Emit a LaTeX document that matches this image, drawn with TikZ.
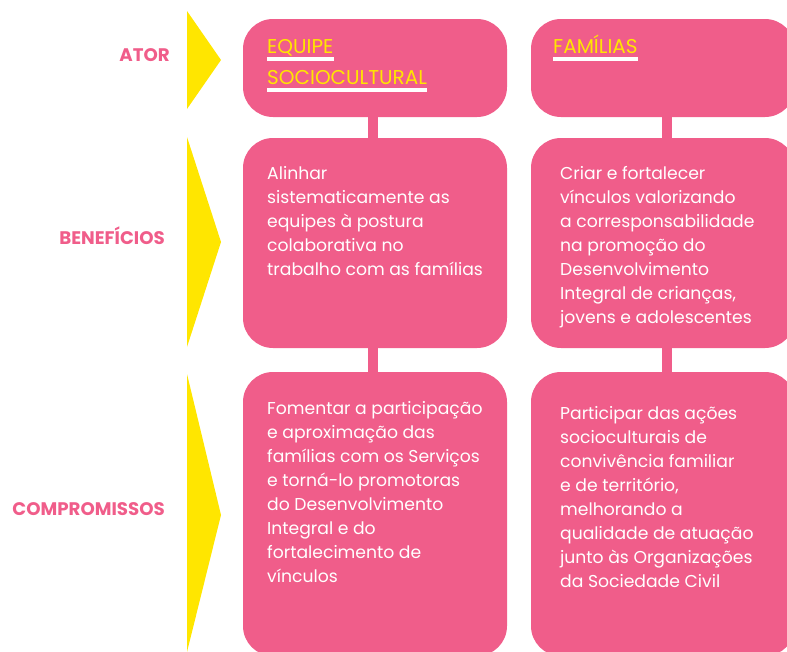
\documentclass[tikz,border=0pt]{standalone}
\usepackage{fontspec}
\setmainfont{Poppins}
\usetikzlibrary{positioning}
\definecolor{rosa}{RGB}{240,93,138}
\definecolor{amarelo}{RGB}{255,230,0}

\begin{document}
\begin{tikzpicture}[x=1pt, y=-1pt,
        caixa/.style={fill=rosa, rounded corners=30pt, minimum width=264pt, inner sep=0pt},
        texto/.style={text=white, align=left, inner sep=0pt, anchor=base west, font=\fontsize{17.2}{24}\selectfont},
        rotulo/.style={text=rosa, anchor=base east, inner sep=0pt, font=\fontsize{18.2}{20}\selectfont\bfseries},
        titulo/.style={text=amarelo, anchor=base west, inner sep=0pt, font=\fontsize{20}{20}\selectfont},
        sublinhado/.style={draw=white, line width=4pt},
        ligacao/.style={draw=rosa, line width=10pt},
        seta/.style={fill=amarelo}]
        \useasboundingbox (0,0) rectangle (787,651);
        \clip (0,0) rectangle (787,651);

        \node[rotulo] (ator) at (170,61) {ATOR};
        \node[rotulo] (beneficios) at (165,244) {BENEFÍCIOS};
        \node[rotulo] (compromissos) at (165,515) {COMPROMISSOS};

        \fill[seta] (187,11) -- (221,60) -- (187,109) -- cycle;
        \fill[seta] (187,137) -- (221,242) -- (187,347) -- cycle;
        \fill[seta] (187,374) -- (221,515) -- (187,652) -- cycle;

        \node[caixa, minimum height=98pt] (equipe) at (375,68) {};
        \node[caixa, minimum height=98pt] (familias) at (663,68) {};
        \node[caixa, minimum height=210pt] (benefEquipe) at (375,243) {};
        \node[caixa, minimum height=210pt] (benefFamilias) at (663,243) {};
        \node[caixa, minimum height=284pt] (compEquipe) at (375,514) {};
        \node[caixa, minimum height=284pt] (compFamilias) at (663,514) {};

        \draw[ligacao] ([xshift=-2pt]equipe.south) -- ([xshift=-2pt]benefEquipe.north);
        \draw[ligacao] ([xshift=-2pt]benefEquipe.south) -- ([xshift=-2pt]compEquipe.north);
        \draw[ligacao] ([xshift=4pt]familias.south) -- ([xshift=4pt]benefFamilias.north);
        \draw[ligacao] ([xshift=4pt]benefFamilias.south) -- ([xshift=4pt]compFamilias.north);

        \node[titulo] (tituloEquipe) at (267,53) {EQUIPE};
        \node[titulo] (tituloSocio) at (267,84) {SOCIOCULTURAL};
        \node[titulo] (tituloFamilias) at (553,53) {FAMÍLIAS};
        \draw[sublinhado] ([yshift=-6pt]tituloEquipe.base west) -- ([yshift=-6pt]tituloEquipe.base east);
        \draw[sublinhado] ([yshift=-6pt]tituloSocio.base west) -- ([yshift=-6pt]tituloSocio.base east);
        \draw[sublinhado] ([yshift=-6pt]tituloFamilias.base west) -- ([yshift=-6pt]tituloFamilias.base east);

        \node[texto] (txtBenefEquipe) at (267,275) {Alinhar\\sistematicamente as\\equipes à postura\\colaborativa no\\trabalho com as famílias};
        \node[texto] (txtBenefFamilias) at (560,323) {Criar e fortalecer\\vínculos valorizando\\a corresponsabilidade\\na promoção do\\Desenvolvimento\\Integral de crianças,\\jovens e adolescentes};
        \node[texto] (txtCompEquipe) at (267,582) {Fomentar a participação\\e aproximação das\\famílias com os Serviços\\e torná-lo promotoras\\do Desenvolvimento\\Integral e do\\fortalecimento de\\vínculos};
        \node[texto] (txtCompFamilias) at (560,587) {Participar das ações\\socioculturais de\\convivência familiar\\e de território,\\melhorando a\\qualidade de atuação\\junto às Organizações\\da Sociedade Civil};
    \end{tikzpicture}
\end{document}
